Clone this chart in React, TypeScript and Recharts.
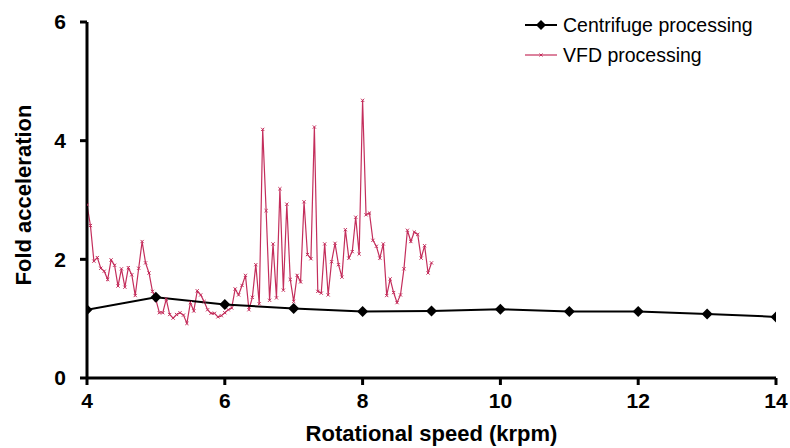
import React from "react";
import { LineChart, Line, XAxis, YAxis, Label } from "recharts";

const centrifugeSpeed = [4, 5, 6, 7, 8, 9, 10, 11, 12, 13, 14];
const centrifugeFold = [1.15, 1.36, 1.24, 1.17, 1.12, 1.13, 1.16, 1.12, 1.12, 1.08, 1.03];

const vfdSpeed = [
  4.0, 4.05, 4.1, 4.15, 4.2, 4.25, 4.3, 4.35, 4.4, 4.45,
  4.5, 4.55, 4.6, 4.65, 4.7, 4.75, 4.8, 4.85, 4.9, 4.95,
  5.0, 5.05, 5.1, 5.15, 5.2, 5.25, 5.3, 5.35, 5.4, 5.45,
  5.5, 5.55, 5.6, 5.65, 5.7, 5.75, 5.8, 5.85, 5.9, 5.95,
  6.0, 6.05, 6.1, 6.15, 6.2, 6.25, 6.3, 6.35, 6.4, 6.45,
  6.5, 6.55, 6.6, 6.65, 6.7, 6.75, 6.8, 6.85, 6.9, 6.95,
  7.0, 7.05, 7.1, 7.15, 7.2, 7.25, 7.3, 7.35, 7.4, 7.45,
  7.5, 7.55, 7.6, 7.65, 7.7, 7.75, 7.8, 7.85, 7.9, 7.95,
  8.0, 8.05, 8.1, 8.15, 8.2, 8.25, 8.3, 8.35, 8.4, 8.45,
  8.5, 8.55, 8.6, 8.65, 8.7, 8.75, 8.8, 8.85, 8.9, 8.95,
  9.0,
];
const vfdFold = [
  2.92, 2.57, 1.97, 2.03, 1.85, 1.8, 1.66, 1.99, 1.9, 1.55,
  1.84, 1.53, 1.86, 1.74, 1.39, 1.85, 2.3, 1.94, 1.77, 1.46,
  1.32, 1.1, 1.1, 1.33, 1.07, 1.01, 1.07, 1.1, 1.06, 0.92,
  1.27, 1.13, 1.47, 1.4, 1.29, 1.15, 1.09, 1.09, 1.03, 1.05,
  1.1, 1.15, 1.18, 1.5, 1.4, 1.56, 1.73, 1.15, 1.36, 1.91,
  1.25, 4.19, 2.82, 1.31, 2.26, 1.35, 3.19, 1.48, 2.93, 1.66,
  1.29, 1.73, 1.62, 2.97, 2.08, 2.01, 4.23, 1.46, 1.43, 2.26,
  1.4, 1.96, 2.27, 1.91, 1.7, 2.5, 2.02, 2.13, 2.71, 2.09,
  4.68, 2.75, 2.78, 2.32, 2.22, 2.02, 2.26, 1.39, 1.67, 1.44,
  1.27, 1.4, 1.84, 2.49, 2.3, 2.46, 2.42, 2.02, 2.23, 1.77,
  1.94,
];

const xTicks = [4, 6, 8, 10, 12, 14];
const yTicks = [0, 2, 4, 6];

const centrifugeData = centrifugeSpeed.map((x, i) => ({ x, y: centrifugeFold[i] }));
const vfdData = vfdSpeed.map((x, i) => ({ x, y: vfdFold[i] }));

const VFD_COLOR = "#C42E5C";
const FONT = "'Liberation Sans', Arial, sans-serif";

const Diamond = (props: any) => {
  const { cx, cy } = props;
  if (cx == null || cy == null) return null;
  const r = 5.5;
  return (
    <path
      d={`M${cx},${cy - r}L${cx + r},${cy}L${cx},${cy + r}L${cx - r},${cy}Z`}
      fill="#000"
      stroke="none"
    />
  );
};

const Cross = (props: any) => {
  const { cx, cy } = props;
  if (cx == null || cy == null) return null;
  const r = 1.6;
  return (
    <path
      d={`M${cx - r},${cy - r}L${cx + r},${cy + r}M${cx - r},${cy + r}L${cx + r},${cy - r}`}
      stroke={VFD_COLOR}
      strokeWidth={1}
      fill="none"
    />
  );
};

const LegendBox = () => (
  <div
    style={{
      position: "absolute",
      left: 525,
      top: 10,
      fontFamily: FONT,
      fontSize: 19.5,
      color: "#000",
      lineHeight: "30px",
    }}
  >
    <div style={{ display: "flex", alignItems: "center" }}>
      <svg width={36} height={14} style={{ marginRight: 2 }}>
        <line x1={0} y1={7} x2={32} y2={7} stroke="#000" strokeWidth={2} />
        <path d="M16,2L21,7L16,12L11,7Z" fill="#000" />
      </svg>
      <span>Centrifuge processing</span>
    </div>
    <div style={{ display: "flex", alignItems: "center" }}>
      <svg width={36} height={14} style={{ marginRight: 2 }}>
        <line x1={0} y1={7} x2={32} y2={7} stroke={VFD_COLOR} strokeWidth={1.2} />
        <path d="M14.5,5.5L17.5,8.5M14.5,8.5L17.5,5.5" stroke={VFD_COLOR} strokeWidth={1} />
      </svg>
      <span>VFD processing</span>
    </div>
  </div>
);

export default function App() {
  return (
    <div style={{ position: "absolute", left: 0, top: 0, width: 790, height: 448, background: "#fff" }}>
      <LineChart
        width={790}
        height={448}
        margin={{ top: 22, right: 14, bottom: 0, left: 0 }}
      >
        <XAxis
          type="number"
          dataKey="x"
          domain={[4, 14]}
          ticks={xTicks}
          allowDataOverflow
          height={70}
          axisLine={{ stroke: "#000", strokeWidth: 3 }}
          tickLine={{ stroke: "#000", strokeWidth: 3 }}
          tickSize={7}
          tickMargin={8}
          tick={{ fill: "#000", fontSize: 21, fontWeight: "bold", fontFamily: FONT }}
        >
          <Label
            value="Rotational speed (krpm)"
            position="insideBottom"
            offset={7}
            style={{ fill: "#000", fontSize: 22, fontWeight: "bold", fontFamily: FONT }}
          />
        </XAxis>
        <YAxis
          type="number"
          dataKey="y"
          domain={[0, 6]}
          ticks={yTicks}
          width={87}
          axisLine={{ stroke: "#000", strokeWidth: 3 }}
          tickLine={{ stroke: "#000", strokeWidth: 3 }}
          tickSize={7}
          tickMargin={14}
          tick={{ fill: "#000", fontSize: 21, fontWeight: "bold", fontFamily: FONT }}
        >
          <Label
            value="Fold acceleration"
            angle={-90}
            position="center"
            dx={-20}
            dy={-5}
            style={{ fill: "#000", fontSize: 22, fontWeight: "bold", fontFamily: FONT, textAnchor: "middle" }}
          />
        </YAxis>
        <Line
          data={vfdData}
          dataKey="y"
          name="VFD processing"
          stroke={VFD_COLOR}
          strokeWidth={1.2}
          dot={<Cross />}
          activeDot={false}
          isAnimationActive={false}
        />
        <Line
          data={centrifugeData}
          dataKey="y"
          name="Centrifuge processing"
          stroke="#000"
          strokeWidth={2}
          dot={<Diamond />}
          activeDot={false}
          isAnimationActive={false}
        />
      </LineChart>
      <LegendBox />
    </div>
  );
}
